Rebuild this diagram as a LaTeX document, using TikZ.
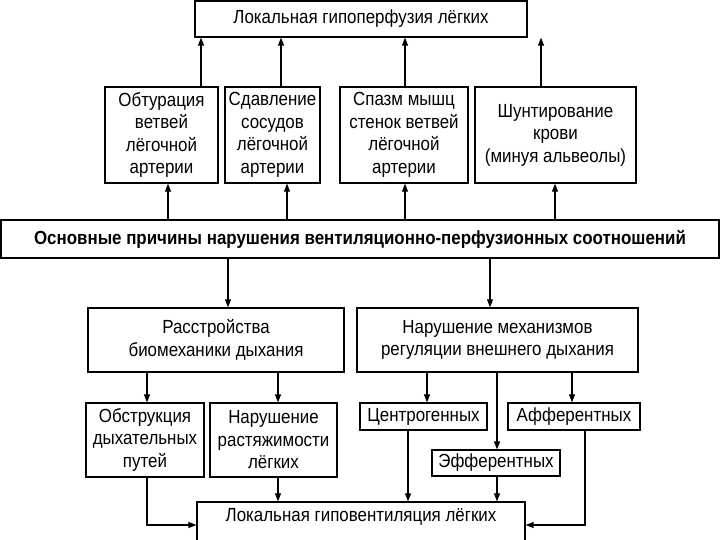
\documentclass[tikz,border=0pt]{standalone}
\usepackage{fontspec}
\setmainfont{Liberation Sans}[FakeStretch=0.89]
\usetikzlibrary{arrows.meta}
\begin{document}
\begin{tikzpicture}[x=1pt,y=-1pt,
  bx/.style={draw,line width=1.3pt,align=center,inner sep=0pt,font=\fontsize{19}{22.5}\selectfont},
  ar/.style={-{Triangle[length=8pt,width=6pt]},line width=1.1pt}]
\useasboundingbox (0,0) rectangle (720,540);
\def\B(#1,#2,#3,#4,#5){\node[bx,minimum width=#3-#1,minimum height=#4-#2] (#5) at ({(#1+#3)/2},{(#2+#4)/2})}
\B(195,1,527,37,top){Локальная гипоперфузия лёгких};
\B(105,87,218,183,a){Обтурация\\ветвей\\лёгочной\\артерии};
\B(225,87,320,183,b){Сдавление\\сосудов\\лёгочной\\артерии};
\B(340,87,468,183,c){Спазм мышц\\стенок ветвей\\лёгочной\\артерии};
\B(475,87,636,183,d){Шунтирование\\крови\\(минуя альвеолы)};
\B(1,220,719,258,main){\bfseries Основные причины нарушения вентиляционно-перфузионных соотношений};
\B(88,308,344,372,m1){Расстройства\\биомеханики дыхания};
\B(357,308,638,372,m2){Нарушение механизмов\\регуляции внешнего дыхания};
\B(86,403,204,477,e){Обструкция\\дыхательных\\путей};
\B(210,403,337,477,f){Нарушение\\растяжимости\\лёгких};
\B(360,403,487,430,g){Центрогенных};
\B(508,403,640,430,h){Афферентных};
\B(432,450,560,476,k){Эфферентных};
\B(197,502,525,560,bot){\raisebox{0pt}[0pt][0pt]{\raisebox{10pt}{Локальная гиповентиляция лёгких}}};
\foreach \n/\xx in {a/201,b/281,c/405,d/541}{\draw[ar] (\n.north -| \xx,0) -- (top.south -| \xx,0);}
\foreach \n/\xx in {a/168,b/287,c/405,d/555}{\draw[ar] (main.north -| \xx,0) -- (\n.south -| \xx,0);}
\draw[ar] (main.south -| 228,0) -- (m1.north -| 228,0);
\draw[ar] (main.south -| 490,0) -- (m2.north -| 490,0);
\draw[ar] (m1.south -| 147,0) -- (e.north -| 147,0);
\draw[ar] (m1.south -| 278,0) -- (f.north -| 278,0);
\draw[ar] (m2.south -| 427,0) -- (g.north -| 427,0);
\draw[ar] (m2.south -| 572,0) -- (h.north -| 572,0);
\draw[ar] (m2.south -| 497,0) -- (k.north -| 497,0);
\draw[ar] (e.south -| 147,0) |- (bot.west |- 0,525);
\draw[ar] (h.south -| 585,0) |- (bot.east |- 0,525);
\draw[ar] (f.south -| 278,0) -- (bot.north -| 278,0);
\draw[ar] (g.south -| 408,0) -- (bot.north -| 408,0);
\draw[ar] (k.south -| 497,0) -- (bot.north -| 497,0);
\end{tikzpicture}
\end{document}
